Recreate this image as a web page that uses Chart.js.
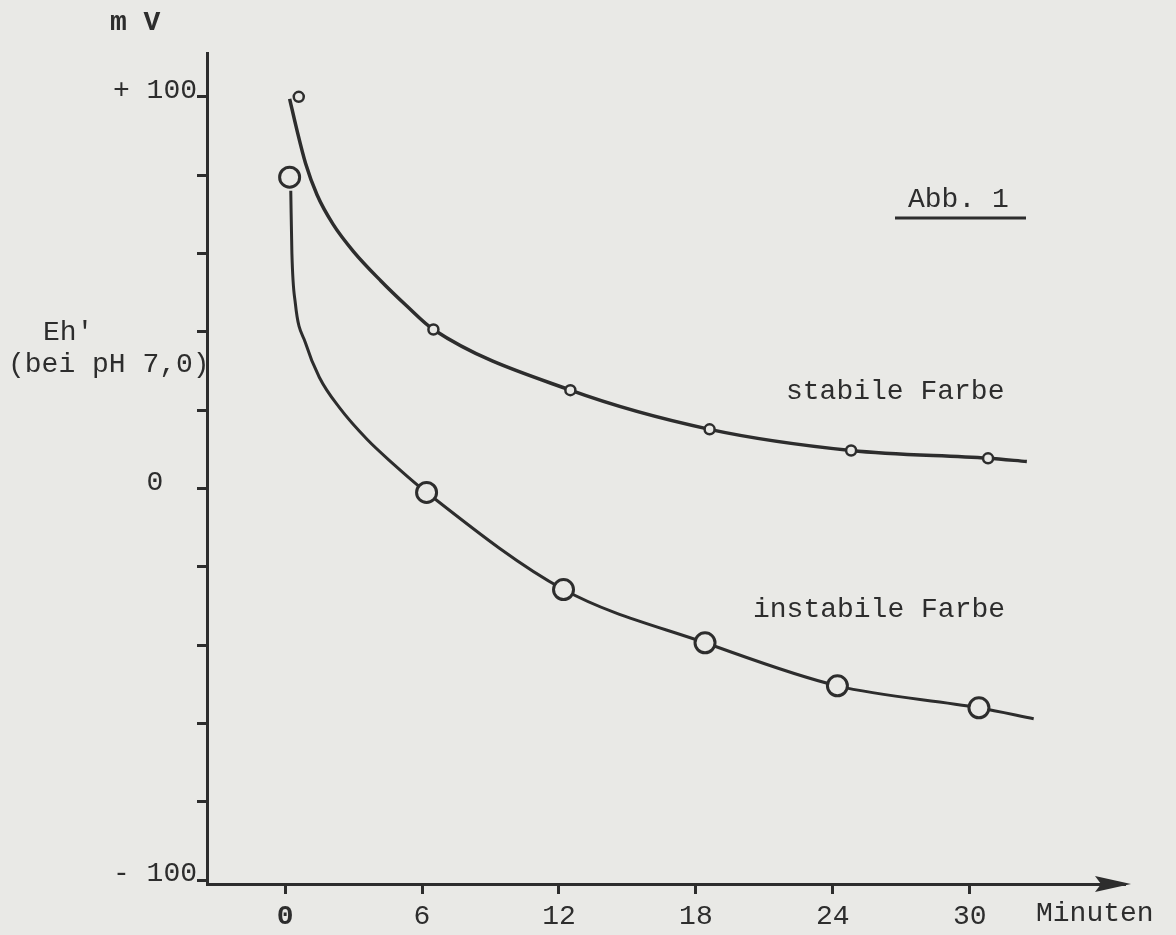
<!DOCTYPE html>
<html>
<head>
<meta charset="utf-8">
<title>Abb. 1</title>
<script src="https://cdn.jsdelivr.net/npm/chart.js@4.4.1/dist/chart.umd.min.js"></script>
<style>
  html, body { margin: 0; padding: 0; background: #e9e9e6; }
  canvas { display: block; }
</style>
</head>
<body>
<canvas id="chart" width="1176" height="935"></canvas>
<script>
const paper = '#e9e9e6';
const ink = '#2d2d2d';
const typeFont = '"Liberation Mono", "DejaVu Sans Mono", monospace';

// axis ticks
const minuteTicks = [0, 6, 12, 18, 24, 30];
const mvTicks = [-100, -80, -60, -40, -20, 0, 20, 40, 60, 80, 100];
const mvTickLabels = { '100': '+ 100', '0': '0  ', '-100': '- 100' };

// measured points (minutes, mV)
const stabilT = [0.6, 6.5, 12.5, 18.6, 24.8, 30.8];
const stabilMV = [100, 40.6, 25.1, 15.1, 9.7, 7.7];
const instabilT = [0.2, 6.2, 12.2, 18.4, 24.2, 30.4];
const instabilMV = [79.5, -1.0, -25.8, -39.4, -50.4, -56];

// hand drawn curves
const stabilCurveT = [0.2, 0.5, 0.9, 1.4, 2.1, 3.0, 4.2, 5.3, 6.5, 12.5, 18.6, 24.8, 30.8, 32.5];
const stabilCurveMV = [99.5, 92, 83, 75, 67.5, 60.5, 53, 46.8, 40.6, 25.1, 15.1, 9.7, 7.7, 6.9];
const instabilCurveT = [0.25, 0.3, 0.45, 0.9, 1.5, 2.4, 3.6, 4.7, 6.2, 12.2, 18.4, 24.2, 30.4, 32.8];
const instabilCurveMV = [76, 60, 47.3, 37.1, 28.4, 20.5, 12.5, 6.5, -1.0, -25.8, -39.4, -50.4, -56, -58.8];

const pts = (xs, ys) => xs.map((x, i) => ({ x: x, y: ys[i] }));

const textPlugin = {
  id: 'typedText',
  afterDraw(chart) {
    const c = chart.ctx;
    const area = chart.chartArea;
    c.save();
    c.fillStyle = ink;
    c.strokeStyle = ink;
    c.textBaseline = 'middle';
    c.textAlign = 'left';

    c.font = 'bold 28px ' + typeFont;
    c.fillText('m V', 110, 23);

    c.font = '28px ' + typeFont;
    c.fillText("Eh'", 43, 333);
    c.fillText('(bei pH 7,0)', 8, 365);
    c.fillText('Abb. 1', 908, 200);
    c.fillText('stabile Farbe', 786, 392);
    c.fillText('instabile Farbe', 753, 610);
    c.fillText('Minuten', 1036, 914);

    c.lineWidth = 3;
    c.beginPath();
    c.moveTo(895, 218);
    c.lineTo(1026, 218);
    c.stroke();

    // arrow head on the time axis
    c.beginPath();
    c.moveTo(area.right + 6, area.bottom);
    c.lineTo(area.right - 30, area.bottom - 8);
    c.lineTo(area.right - 24, area.bottom);
    c.lineTo(area.right - 30, area.bottom + 8);
    c.closePath();
    c.fill();
    c.restore();
  }
};

const ctx = document.getElementById('chart').getContext('2d');
const chart = new Chart(ctx, {
  type: 'line',
  data: {
    datasets: [
      {
        label: 'instabile Farbe (Messwerte)',
        data: pts(instabilT, instabilMV),
        showLine: false,
        pointRadius: 10,
        pointBorderWidth: 3,
        pointBorderColor: ink,
        pointBackgroundColor: paper
      },
      {
        label: 'stabile Farbe (Messwerte)',
        data: pts(stabilT, stabilMV),
        showLine: false,
        pointRadius: 5,
        pointBorderWidth: 2.5,
        pointBorderColor: ink,
        pointBackgroundColor: paper
      },
      {
        label: 'stabile Farbe',
        data: pts(stabilCurveT, stabilCurveMV),
        borderColor: ink,
        borderWidth: 3.5,
        cubicInterpolationMode: 'monotone',
        pointRadius: 0,
        fill: false
      },
      {
        label: 'instabile Farbe',
        data: pts(instabilCurveT, instabilCurveMV),
        borderColor: ink,
        borderWidth: 3,
        cubicInterpolationMode: 'monotone',
        pointRadius: 0,
        fill: false
      }
    ]
  },
  options: {
    responsive: false,
    animation: false,
    layout: { padding: { top: 53, right: 51, left: 0, bottom: 0 } },
    plugins: {
      legend: { display: false },
      tooltip: { enabled: false }
    },
    scales: {
      x: {
        type: 'linear',
        min: -3.42,
        max: 36.8,
        afterBuildTicks(scale) { scale.ticks = minuteTicks.map(v => ({ value: v })); },
        afterFit(scale) { scale.height = 51; },
        border: { display: true, color: ink, width: 3 },
        grid: { drawOnChartArea: false, drawTicks: true, tickLength: 10, tickWidth: 3, tickColor: ink },
        ticks: {
          color: ink,
          padding: 6,
          maxRotation: 0,
          font: (c) => ({ family: typeFont, size: 28, weight: c.tick && c.tick.value === 0 ? 'bold' : 'normal' }),
          callback: (v) => String(v)
        }
      },
      y: {
        type: 'linear',
        min: -101,
        max: 111.2,
        afterBuildTicks(scale) { scale.ticks = mvTicks.map(v => ({ value: v })); },
        afterFit(scale) { scale.width = 207; },
        border: { display: true, color: ink, width: 3 },
        grid: { drawOnChartArea: false, drawTicks: true, tickLength: 10, tickWidth: 3, tickColor: ink },
        ticks: {
          color: ink,
          padding: 0,
          labelOffset: -6,
          font: { family: typeFont, size: 28 },
          callback: (v) => mvTickLabels[String(v)] || ''
        }
      }
    }
  },
  plugins: [textPlugin]
});
</script>
</body>
</html>
